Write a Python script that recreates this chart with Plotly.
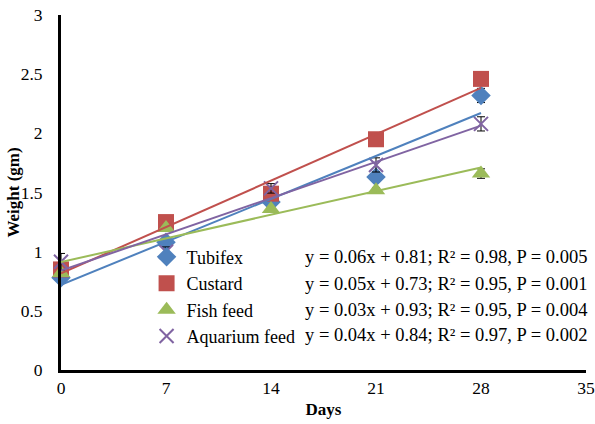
import numpy as np
import plotly.graph_objects as go

days = [0, 7, 14, 21, 28]
series_names = ["Tubifex", "Custard", "Fish feed", "Aquarium feed"]
tubifex = [0.78, 1.08, 1.42, 1.63, 2.32]
custard = [0.85, 1.25, 1.49, 1.95, 2.46]
fish_feed = [0.82, 1.20, 1.36, 1.52, 1.66]
aquarium_feed = [0.915, 1.00, 1.535, 1.733, 2.08]
tubifex_err = [0.03, 0.03, 0.03, 0.04, 0.06]
custard_err = [0.02, 0.02, 0.02, 0.02, 0.02]
fish_feed_err = [0.02, 0.02, 0.02, 0.02, 0.04]
aquarium_feed_err = [0.07, 0.04, 0.04, 0.06, 0.06]
equations = [
    "y = 0.06x + 0.81; R² = 0.98, P = 0.005",
    "y = 0.05x + 0.73; R² = 0.95, P = 0.001",
    "y = 0.03x + 0.93; R² = 0.95, P = 0.004",
    "y = 0.04x + 0.84; R² = 0.97, P = 0.002",
]
x_ticks = [0, 7, 14, 21, 28, 35]
y_ticks = [0, 0.5, 1, 1.5, 2, 2.5, 3]
y_title = "Weight (gm)"
x_title = "Days"

values = [tubifex, custard, fish_feed, aquarium_feed]
errors = [tubifex_err, custard_err, fish_feed_err, aquarium_feed_err]
colors = ["#4F81BD", "#C0504D", "#9BBB59", "#8064A2"]
symbols = ["diamond", "square", "triangle-up", "x-thin"]
sizes = [15, 16, 16, 14]

FONT = "Liberation Serif, Times New Roman, serif"
fig = go.Figure()

for name, vals, err, col, sym, sz in zip(series_names, values, errors, colors, symbols, sizes):
    marker = dict(symbol=sym, size=sz, color=col)
    if sym == "x-thin":
        marker["line"] = dict(color=col, width=2)
    fig.add_trace(go.Scatter(
        x=days, y=vals, mode="markers", name=name, marker=marker,
        error_y=dict(type="data", array=err, color="black", thickness=1, width=4),
        cliponaxis=False,
    ))

for name, vals, col in zip(series_names, values, colors):
    slope, intercept = np.polyfit(days, vals, 1)
    xs = [days[0], days[-1]]
    ys = [intercept + slope * xx for xx in xs]
    fig.add_trace(go.Scatter(
        x=xs, y=ys, mode="lines", line=dict(color=col, width=2),
        showlegend=False, hoverinfo="skip", cliponaxis=False,
    ))

row_y = [0.318, 0.242, 0.169, 0.0986]
for eq, yy in zip(equations, row_y):
    fig.add_annotation(x=1.0, y=yy, xref="paper", yref="paper", text=eq,
                       showarrow=False, xanchor="right", yanchor="middle", xshift=4,
                       font=dict(family=FONT, size=18.5, color="black"))

# y-axis title placed as rotated text
fig.add_annotation(x=0, y=0.5, xref="paper", yref="paper", text="<b>" + y_title + "</b>",
                   showarrow=False, textangle=-90, xanchor="center", yanchor="middle",
                   xshift=-48, font=dict(family=FONT, size=17, color="black"))

fig.update_layout(
    width=595, height=424,
    margin=dict(l=61, r=9, t=15, b=54),
    paper_bgcolor="white", plot_bgcolor="white",
    font=dict(family=FONT, size=18, color="black"),
    legend=dict(x=0.163, y=0.37, xanchor="left", yanchor="top",
                bgcolor="rgba(0,0,0,0)", itemwidth=30,
                font=dict(family=FONT, size=18, color="black"),
                tracegroupgap=0),
    xaxis=dict(range=[0, 35], tickvals=x_ticks, showgrid=False, zeroline=False,
               showline=True, linecolor="black", linewidth=3, ticks="",
               ticklabelstandoff=0, ticklabeloverflow="allow", automargin=False,
               tickfont=dict(family=FONT, size=17.5),
               title=dict(text="<b>" + x_title + "</b>", font=dict(family=FONT, size=17), standoff=7)),
    yaxis=dict(range=[0, 3], tickvals=y_ticks, showgrid=False, zeroline=False,
               showline=True, linecolor="black", linewidth=3, ticks="",
               ticklabelstandoff=12, automargin=False,
               tickfont=dict(family=FONT, size=17.5)),
    showlegend=True,
)

fig.write_html("out.html", config={"displayModeBar": False},
               post_script="document.body.style.margin='0';document.body.style.overflow='hidden';")
